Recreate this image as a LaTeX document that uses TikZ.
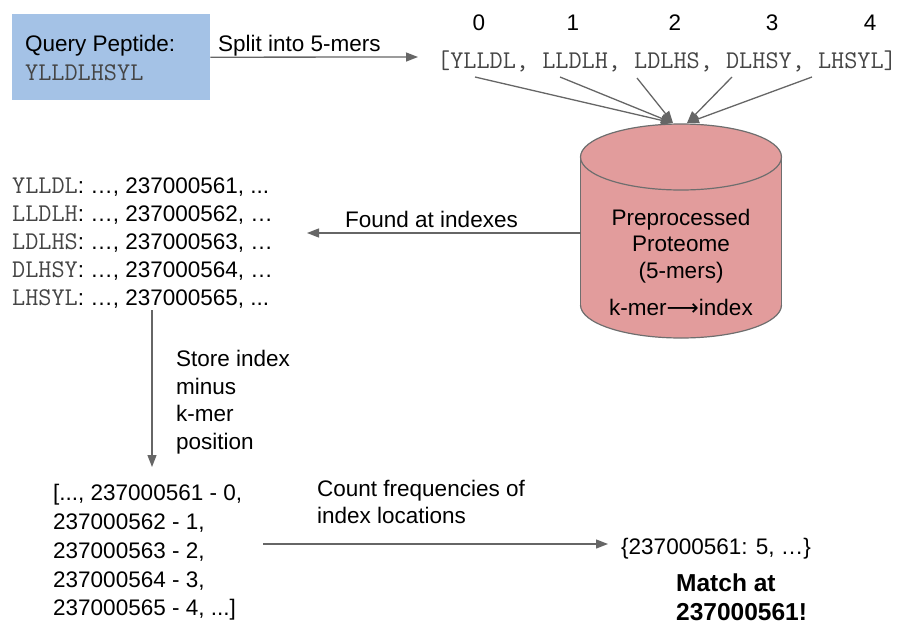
\documentclass[tikz,border=0pt]{standalone}
\usepackage{fontspec}
\setmainfont{Liberation Sans}
\newfontfamily\arrowfont{DejaVu Sans}
\usetikzlibrary{arrows.meta}

\definecolor{querybg}{HTML}{A4C2E6}
\definecolor{dbfill}{HTML}{E29C9C}
\definecolor{edge}{HTML}{666666}
\definecolor{dbline}{HTML}{6E6E6E}
\definecolor{codegray}{HTML}{454545}

\newcommand{\sanstext}{\fontsize{22.5}{27}\selectfont}
\newcommand{\code}[1]{{\ttfamily\fontsize{25.5}{27}\selectfont\color{codegray}#1}}

\begin{document}
\begin{tikzpicture}[x=1pt,y=-1pt,
  txt/.style={font=\sanstext, inner sep=0pt, anchor=base west},
  ctxt/.style={txt, anchor=base},
  arr/.style={draw=edge, line width=1.3pt, -{Triangle[length=12pt,width=9pt]}},
  dbstroke/.style={draw=dbline, line width=1.2pt}]
\useasboundingbox (0,0) rectangle (919,624);

% query peptide box
\node[fill=querybg, minimum width=198pt, minimum height=86pt,
      anchor=north west, inner sep=0pt] (query) at (12,14) {};
\node[txt] (qtitle) at (25,51) {Query Peptide:};
\node[txt] (qseq) at (25,80) {\code{YLLDLHSYL}};

% split into k-mers
\node[txt] (kmers) at (437,68) {\code{[YLLDL, LLDLH, LDLHS, DLHSY, LHSYL]}};
\coordinate (splitend) at (418,57);
\draw[arr] (query.east) -- (splitend);
\node[txt] (splitlbl) at (218,51) {Split into 5-mers};

% k-mer positions
\foreach \i/\x in {0/479,1/573,2/675,3/772,4/870}
  \node[ctxt] (pos\i) at (\x,30) {\i};

% preprocessed proteome database
\fill[dbfill] (580.5,157) rectangle (781.5,305);
\fill[dbfill] (681,305) ellipse [x radius=100.5, y radius=33];
\draw[dbstroke] (580.5,157) -- (580.5,305);
\draw[dbstroke] (781.5,157) -- (781.5,305);
\begin{scope}
  \clip (570,305) rectangle (795,345);
  \draw[dbstroke] (681,305) ellipse [x radius=100.5, y radius=33];
\end{scope}
\filldraw[dbstroke, fill=dbfill] (681,157) ellipse [x radius=100.5, y radius=33];

\node[ctxt] (db1) at (681,225) {Preprocessed};
\node[ctxt] (db2) at (681,251) {Proteome};
\node[ctxt] (db3) at (681,278) {(5-mers)};
\node[ctxt] (db4) at (681,315) {k-mer{\arrowfont ⟶}index};

% k-mers looked up in the database
\coordinate (k0) at (475,77);
\coordinate (k1) at (560,77);
\coordinate (k2) at (637,78);
\coordinate (k3) at (732,77);
\coordinate (k4) at (812,77);
\coordinate (dbinA) at (673,123);
\coordinate (dbinB) at (687,123);
\draw[arr] (k0) -- (dbinA);
\draw[arr] (k1) -- (dbinA);
\draw[arr] (k2) -- (dbinA);
\draw[arr] (k3) -- (dbinB);
\draw[arr] (k4) -- (dbinB);

% lookup results
\node[txt] (ll1) at (12,193) {\code{YLLDL}: …, 237000561, ...};
\node[txt] (ll2) at (12,221) {\code{LLDLH}: …, 237000562, …};
\node[txt] (ll3) at (12,249) {\code{LDLHS}: …, 237000563, …};
\node[txt] (ll4) at (12,277) {\code{DLHSY}: …, 237000564, …};
\node[txt] (ll5) at (12,305) {\code{LHSYL}: …, 237000565, ...};

\coordinate (dbleft) at (580.5,233);
\coordinate (foundend) at (307,233);
\draw[arr] (dbleft) -- (foundend);
\node[txt] (foundlbl) at (345,227) {Found at indexes};

% offset by k-mer position
\coordinate (storestart) at (152,310);
\coordinate (storeend) at (152,467);
\draw[arr] (storestart) -- (storeend);
\node[txt] (st1) at (176,366) {Store index};
\node[txt] (st2) at (176,394) {minus};
\node[txt] (st3) at (176,421) {k-mer};
\node[txt] (st4) at (176,449) {position};

\node[txt] (bl1) at (53,500) {[..., 237000561 - 0,};
\node[txt] (bl2) at (53,529) {237000562 - 1,};
\node[txt] (bl3) at (53,558) {237000563 - 2,};
\node[txt] (bl4) at (53,587) {237000564 - 3,};
\node[txt] (bl5) at (53,615) {237000565 - 4, ...]};

% frequency count
\node[txt] (result) at (621,554) {\{237000561: 5, …\}};
\coordinate (countstart) at (263,544);
\coordinate (countend) at (608,544);
\draw[arr] (countstart) -- (countend);
\node[txt] (cf1) at (317,496) {Count frequencies of};
\node[txt] (cf2) at (317,523) {index locations};

\node[txt, font=\bfseries\fontsize{24.5}{30}\selectfont] (match1) at (676,591) {Match at};
\node[txt, font=\bfseries\fontsize{24.5}{30}\selectfont] (match2) at (676,620) {237000561!};
\end{tikzpicture}
\end{document}
